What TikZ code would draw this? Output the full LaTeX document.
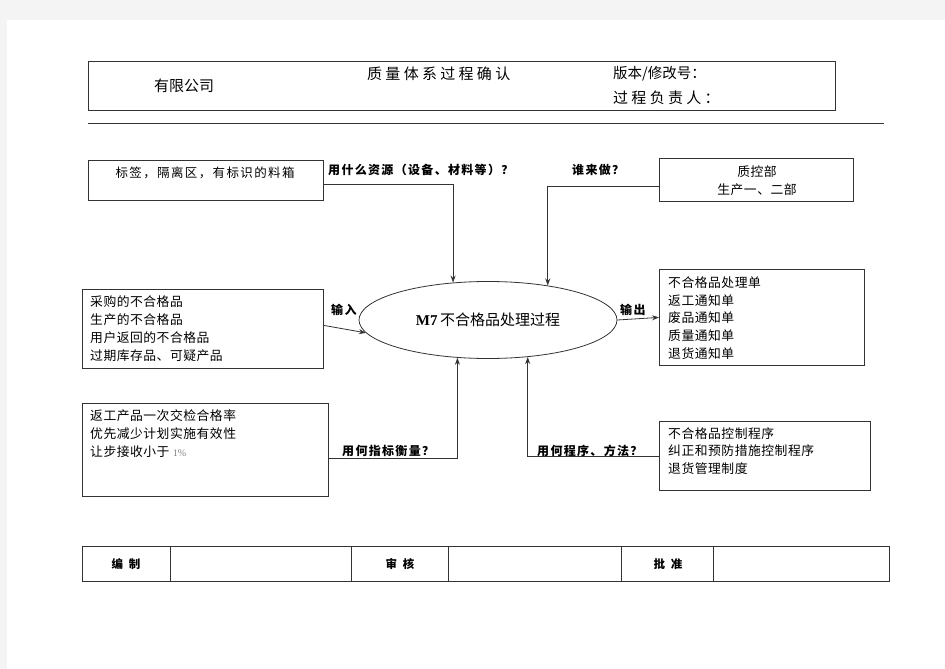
\documentclass[tikz,border=0pt]{standalone}
\usepackage{fontspec}
\setmainfont{Liberation Serif}
\newfontfamily\cjk{Noto Sans CJK SC}
\newfontfamily\cjkw[LetterSpace=22]{Noto Sans CJK SC}
\newfontfamily\cjkl[LetterSpace=11]{Noto Sans CJK SC}
\newfontfamily\cjkb[LetterSpace=4]{Noto Sans CJK SC}
\usetikzlibrary{shapes.geometric,arrows.meta}
\definecolor{bggray}{HTML}{F4F4F4}
\definecolor{linegray}{HTML}{333333}
\tikzset{
  box/.style={draw=linegray, line width=0.8pt, rectangle, inner sep=0pt, anchor=north west},
  txt/.style={inner sep=0pt, font=\cjkb\fontsize{12.8}{17.6}\selectfont, align=left},
  lbl/.style={inner sep=0pt, font=\cjkl\bfseries\fontsize{12}{14}\selectfont, anchor=base west},
  conn/.style={draw=linegray, line width=0.8pt},
  arr/.style={conn, -{Stealth[length=7pt,width=5pt]}},
}
\begin{document}
\begin{tikzpicture}[x=1pt,y=-1pt]
\useasboundingbox (0,0) rectangle (945,669);
\fill[bggray] (0,0) rectangle (945,669);
\fill[white] (7,20) rectangle (945,669);

% header
\draw[linegray, line width=0.8pt] (88,61) rectangle (835,110);
\node[inner sep=0pt, font=\cjk\fontsize{15}{18}\selectfont] (co) at (184,86) {有限公司};
\node[inner sep=0pt, font=\cjkw\fontsize{15}{18}\selectfont, anchor=west] (ti) at (367,74) {质量体系过程确认};
\node[inner sep=0pt, font=\cjk\fontsize{14.5}{18}\selectfont, anchor=west] (ver) at (613,74) {版本/修改号：};
\node[inner sep=0pt, font=\cjkw\fontsize{15}{18}\selectfont, anchor=west] (own) at (613,98) {过程负责人：};
\draw[linegray, line width=0.8pt] (88,123) -- (884,123);

% ellipse
\node[ellipse, draw=linegray, line width=0.8pt, minimum width=258, minimum height=77, inner sep=0pt] (e) at (488,320)
  {\fontsize{15}{18}\selectfont\textbf{M7}\,{\cjk 不合格品处理过程}};

% top-left box
\node[box, minimum width=235, minimum height=40] (b1) at (88,160) {};
\node[txt, anchor=center, font=\cjkl\fontsize{12.5}{17}\selectfont] (t1) at (205,173) {标签，隔离区，有标识的料箱};
\node[lbl] (l1) at (328,174) {用什么资源（设备、材料等）？};
\draw[arr] ([yshift=-4]b1.east) -| (e.133);

% top-right box
\node[box, minimum width=194, minimum height=43] (b2) at (659,158) {};
\node[txt, anchor=center, align=center] (t2) at (757,180.5) {质控部\\生产一、二部};
\node[lbl] (l2) at (572,174) {谁来做？};
\draw[arr] ([yshift=-6.5]b2.west) -| (e.30);

% left box
\node[box, minimum width=241, minimum height=79] (b3) at (82,289) {};
\node[txt, anchor=west, font=\cjkb\fontsize{12.8}{18}\selectfont] (t3) at (90,329) {采购的不合格品\\生产的不合格品\\用户返回的不合格品\\过期库存品、可疑产品};
\node[lbl] (l3) at (331,314) {输入};
\draw[arr] ([yshift=3.5]b3.east) -- (e.186);

% right box
\node[box, minimum width=205, minimum height=96] (b4) at (659,269) {};
\node[txt, anchor=west] (t4) at (668,318) {不合格品处理单\\返工通知单\\废品通知单\\质量通知单\\退货通知单};
\node[lbl] (l4) at (620,314) {输出};
\draw[arr] (e.east) -- (b4.west);

% bottom-left box
\node[box, minimum width=246, minimum height=93] (b5) at (82,403) {};
\node[txt, anchor=north west, font=\cjkb\fontsize{12.8}{18}\selectfont] (t5) at (90,409) {返工产品一次交检合格率\\优先减少计划实施有效性\\让步接收小于 {\rmfamily\fontsize{10}{12}\selectfont\color{gray}1\%}};
\node[lbl] (l5) at (342,455) {用何指标衡量？};
\draw[arr] ([yshift=-8]b5.east) -| (e.231);

% bottom-right box
\node[box, minimum width=211, minimum height=69] (b6) at (659,421) {};
\node[txt, anchor=north west] (t6) at (668,427) {不合格品控制程序\\纠正和预防措施控制程序\\退货管理制度};
\node[lbl] (l6) at (537,455) {用何程序、方法？};
\draw[arr] (b6.west) -| (e.317);

% bottom table
\draw[linegray, line width=0.9pt] (82,546) rectangle (889,581);
\foreach \xx in {170,351,448,621,713} \draw[linegray, line width=0.8pt] (\xx,546) -- (\xx,581);
\node[inner sep=0pt, font=\cjk\bfseries\fontsize{11.5}{14}\selectfont] (c1) at (126,564) {编\hspace{6pt}制};
\node[inner sep=0pt, font=\cjk\bfseries\fontsize{11.5}{14}\selectfont] (c2) at (400,564) {审\hspace{6pt}核};
\node[inner sep=0pt, font=\cjk\bfseries\fontsize{11.5}{14}\selectfont] (c3) at (668,564) {批\hspace{6pt}准};
\end{tikzpicture}
\end{document}
